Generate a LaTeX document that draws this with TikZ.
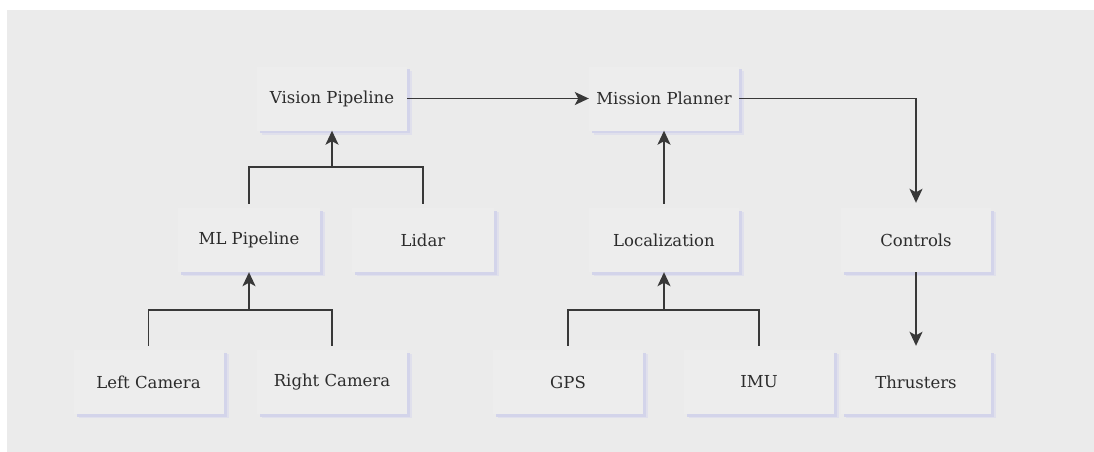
\documentclass[tikz,border=0pt]{standalone}
\usepackage{fontspec}
\setmainfont{DejaVu Serif}
\usetikzlibrary{arrows.meta}
\definecolor{bg}{HTML}{EBEBEB}
\definecolor{boxfill}{HTML}{EDEDED}
\definecolor{shadowc}{HTML}{D3D4EA}
\definecolor{shadowd}{HTML}{E0E0EC}
\definecolor{linec}{HTML}{383838}
\definecolor{txt}{HTML}{2C2C2C}
\tikzset{
  box/.style={fill=boxfill, minimum width=150pt, minimum height=64pt, inner sep=0pt,
    text=txt, font=\fontsize{16.5}{19}\selectfont,
    preaction={fill=shadowd, transform canvas={xshift=5pt,yshift=-4pt}},
    preaction={fill=shadowc, transform canvas={xshift=3pt,yshift=-2.5pt}}},
  narrowbox/.style={box, minimum width=142pt},
  conn/.style={draw=linec, line width=1.7pt},
  arr/.style={conn, -{Stealth[length=14pt,width=13pt,inset=3.5pt]}}
}
\begin{document}
\begin{tikzpicture}[x=1pt,y=-1pt]
\useasboundingbox (0,0) rectangle (1094,452);
\fill[white] (0,0) rectangle (1094,452);
\fill[bg] (7,10) rectangle (1094,452);

\node[box] (vp) at (332,98.5) {Vision Pipeline};
\node[box] (mp) at (664,98.5) {Mission Planner};
\node[narrowbox] (ml) at (249,240) {ML Pipeline};
\node[narrowbox] (lid) at (423,240) {Lidar};
\node[box] (loc) at (664,240) {Localization};
\node[box] (ctl) at (916,240) {Controls};
\node[box] (lc) at (148.5,382) {Left Camera};
\node[box] (rc) at (332,382) {Right Camera};
\node[box] (gps) at (568,382) {GPS};
\node[box] (imu) at (759,382) {IMU};
\node[box] (thr) at (916,382) {Thrusters};

\coordinate (vj) at (332,167);
\coordinate (mj) at (249,310);
\coordinate (lj) at (664,310);

\draw[arr] (vp.east) -- (mp.west);
\draw[arr] (mp.east) -| ([yshift=5pt]ctl.north);
\draw[arr] (ctl.south) -- ([yshift=4pt]thr.north);
\draw[arr] ([yshift=4pt]loc.north) -- (mp.south);

\draw[conn] ([yshift=4pt]ml.north) |- (vj) -| ([yshift=4pt]lid.north);
\draw[arr] (vj) -- (vp.south);

\draw[conn] ([yshift=4pt]lc.north) |- (mj) -| ([yshift=4pt]rc.north);
\draw[arr] (mj) -- (ml.south);

\draw[conn] ([yshift=4pt]gps.north) |- (lj) -| ([yshift=4pt]imu.north);
\draw[arr] (lj) -- (loc.south);
\end{tikzpicture}
\end{document}
